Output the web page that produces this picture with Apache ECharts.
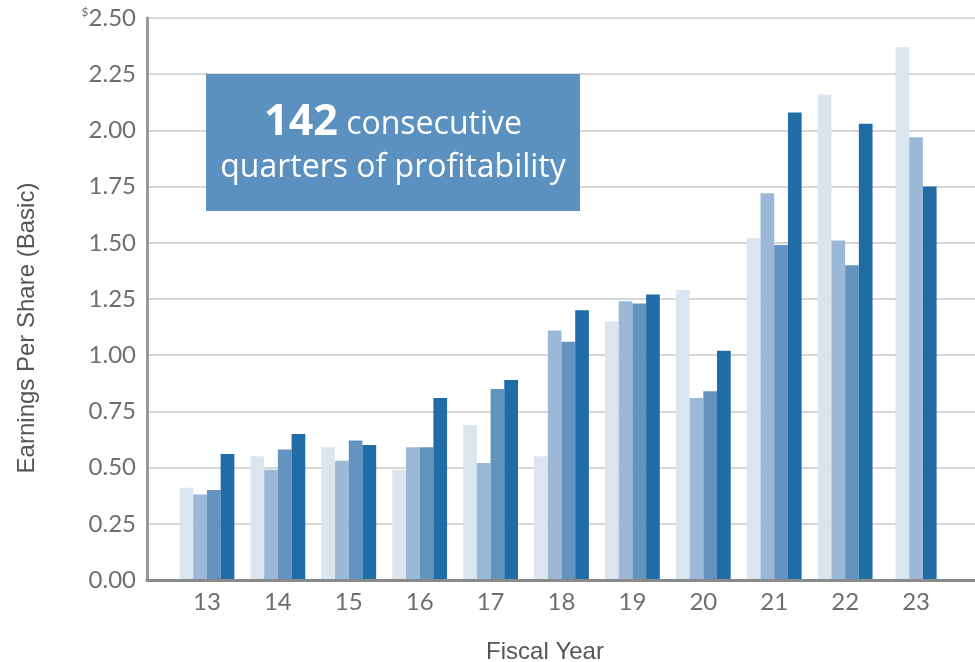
<!DOCTYPE html>
<html>
<head>
<meta charset="utf-8">
<title>Earnings Per Share (Basic)</title>
<script src="https://cdn.jsdelivr.net/npm/echarts@6.0.0/dist/echarts.min.js"></script>
<style>
  html, body { margin: 0; padding: 0; background: #fff; }
  #chart { width: 975px; height: 662px; }
</style>
</head>
<body>
<div id="chart"></div>
<script>
// fiscal years 13-22 have four quarterly bars, 23 only three
const years = ['13', '14', '15', '16', '17', '18', '19', '20', '21', '22', '23']
const q1 = [0.41, 0.55, 0.59, 0.49, 0.69, 0.55, 1.15, 1.29, 1.52, 2.16]
const q2 = [0.38, 0.49, 0.53, 0.59, 0.52, 1.11, 1.24, 0.81, 1.72, 1.51]
const q3 = [0.40, 0.58, 0.62, 0.59, 0.85, 1.06, 1.23, 0.84, 1.49, 1.40]
const q4 = [0.56, 0.65, 0.60, 0.81, 0.89, 1.20, 1.27, 1.02, 2.08, 2.03]
const fy23 = [2.37, 1.97, 1.75]
const yTicks = [0, 0.25, 0.5, 0.75, 1, 1.25, 1.5, 1.75, 2, 2.25, 2.5]

const colors = ['#dbe5f0', '#9bb9d7', '#6394c0', '#1f6ca6']
const fy23Colors = ['#dbe5f0', '#9bb9d7', '#1f6ca6']

const chart = echarts.init(document.getElementById('chart'))

const yMin = yTicks[0]
const yMax = yTicks[yTicks.length - 1]
const barW = 13.7
const labelColor = '#6e6e6e'

const quarterSeries = [q1, q2, q3, q4].map((arr, i) => ({
  type: 'bar',
  xAxisIndex: 1,
  yAxisIndex: 1,
  barWidth: barW,
  barGap: 0,
  itemStyle: { color: colors[i] },
  data: arr.concat([null]),
}))

const lastYearSeries = fy23.map((v, i) => ({
  type: 'bar',
  xAxisIndex: 2,
  yAxisIndex: 1,
  barWidth: barW,
  barGap: 0,
  itemStyle: { color: fy23Colors[i] },
  data: years.map((y, j) => (j === years.length - 1 ? v : null)),
}))

const option = {
  animation: false,
  grid: [
    { left: 147, right: 0, top: 18, bottom: 82 },
    { left: 171.5, right: 23.5, top: 18, bottom: 82 },
  ],
  xAxis: [
    {
      gridIndex: 0,
      type: 'value',
      min: 0,
      max: 1,
      z: 5,
      axisLine: { show: true, lineStyle: { color: '#8a8a8a', width: 3 } },
      axisTick: { show: false },
      axisLabel: { show: false },
      splitLine: { show: false },
    },
    {
      gridIndex: 1,
      type: 'category',
      data: years,
      axisLine: { show: false },
      axisTick: { show: false },
      axisLabel: {
        margin: 10,
        color: labelColor,
        fontFamily: 'Lato',
        fontSize: 24,
      },
    },
    {
      gridIndex: 1,
      type: 'category',
      data: years,
      show: false,
    },
  ],
  yAxis: [
    {
      gridIndex: 0,
      type: 'value',
      min: yMin,
      max: yMax,
      interval: 0.25,
      axisLine: { show: true, lineStyle: { color: '#999', width: 3 } },
      axisTick: { show: false },
      axisLabel: {
        margin: 11,
        color: labelColor,
        fontFamily: 'Lato',
        fontSize: 24,
        formatter: v => (v === yMax ? '{s|$}' : '') + v.toFixed(2),
        rich: {
          s: { fontSize: 12, fontFamily: 'Lato', color: labelColor, verticalAlign: 'top', padding: [0, 0, 12, 0] },
        },
      },
      splitLine: { lineStyle: { color: '#cacaca', width: 1.5 } },
    },
    {
      gridIndex: 1,
      type: 'value',
      min: yMin,
      max: yMax,
      show: false,
      splitLine: { show: false },
    },
  ],
  series: quarterSeries.concat(lastYearSeries),
  graphic: [
    {
      type: 'rect',
      left: 206,
      top: 74,
      z: 10,
      shape: { width: 374, height: 137 },
      style: { fill: '#5b91bf' },
    },
    {
      type: 'text',
      x: 393,
      y: 144,
      z: 11,
      style: {
        text: '{b|142}{r| consecutive}',
        align: 'center',
        verticalAlign: 'bottom',
        rich: {
          b: { fontFamily: 'Open Sans', fontWeight: 'bold', fontSize: 43, lineHeight: 46, fill: '#fff', verticalAlign: 'bottom' },
          r: { fontFamily: 'Open Sans', fontSize: 32, lineHeight: 46, fill: '#fff', verticalAlign: 'bottom', padding: [0, 0, 3, 0] },
        },
      },
    },
    {
      type: 'text',
      x: 393,
      y: 184,
      z: 11,
      style: {
        text: 'quarters of profitability',
        align: 'center',
        verticalAlign: 'bottom',
        fontFamily: 'Open Sans',
        fontSize: 32,
        fill: '#fff',
      },
    },
    {
      type: 'text',
      x: 27,
      y: 328,
      rotation: Math.PI / 2,
      style: {
        text: 'Earnings Per Share (Basic)',
        align: 'center',
        verticalAlign: 'middle',
        fontFamily: 'Liberation Sans',
        fontSize: 24,
        fill: '#555',
      },
    },
    {
      type: 'text',
      x: 545,
      y: 652,
      style: {
        text: 'Fiscal Year',
        align: 'center',
        verticalAlign: 'middle',
        fontFamily: 'Liberation Sans',
        fontSize: 24,
        fill: '#555',
      },
    },
  ],
}

chart.setOption(option)
</script>
</body>
</html>
